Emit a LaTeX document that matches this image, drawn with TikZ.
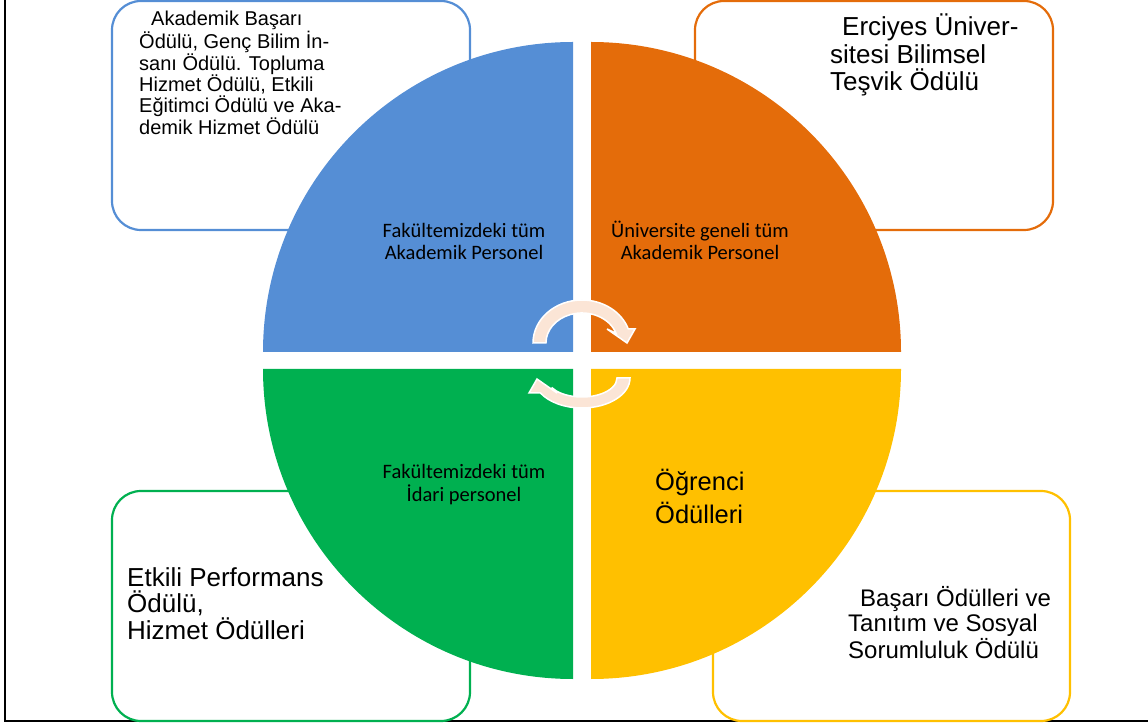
\documentclass[tikz,border=0pt]{standalone}
\usepackage{fontspec}
\setmainfont{Liberation Sans}
\newfontfamily\calibri{Carlito}

\definecolor{qblue}{HTML}{558ED5}
\definecolor{qorange}{HTML}{E46C0A}
\definecolor{qgreen}{HTML}{00B050}
\definecolor{qyellow}{HTML}{FFC000}
\definecolor{peach}{HTML}{FBE5D6}

\tikzset{
  awardbox/.style={line width=2.2pt, rounded corners=29pt},
  boxtext/.style={anchor=base west, align=left, inner sep=0pt},
  quadtext/.style={anchor=base, align=center, inner sep=0pt,
    font=\calibri\fontsize{20.5}{22}\selectfont},
  turnarrow/.style={fill=peach, draw=white, line width=1.5pt, line join=miter}
}

\begin{document}
\begin{tikzpicture}[x=1pt, y=1pt]
\useasboundingbox (0,0) rectangle (1148,726);

% page frame
\draw[line width=2pt] (5,726) -- (5,5) -- (1148,5);

% award boxes
\draw[awardbox, qblue]   (112,496) rectangle (470,725);
\draw[awardbox, qorange] (695,496) rectangle (1053,725);
\draw[awardbox, qgreen]  (112,5) rectangle (470,235);
\draw[awardbox, qyellow] (713,5) rectangle (1070,235);

% quarter discs
\fill[qblue]   (573,374) -- ++(-310,0) arc[start angle=180, end angle=90, radius=310pt] -- cycle;
\fill[qorange] (591,374) -- ++(0,310) arc[start angle=90, end angle=0, radius=310pt] -- cycle;
\fill[qgreen]  (573,357) -- ++(0,-310) arc[start angle=270, end angle=180, radius=310pt] -- cycle;
\fill[qyellow] (591,357) -- ++(310,0) arc[start angle=0, end angle=-90, radius=310pt] -- cycle;

% texts in the boxes (base = last line)
\node[boxtext, font=\fontsize{20}{20.7}\selectfont] (akademik) at (139,591.5)
  {\hspace*{12pt}Akademik Başarı\\Ödülü, Genç Bilim İn-\\sanı Ödülü. Topluma\\Hizmet Ödülü, Etkili\\Eğitimci Ödülü ve Aka-\\demik Hizmet Ödülü};
\node[boxtext, font=\fontsize{26}{27.5}\selectfont] (erciyes) at (830,635)
  {\hspace*{12pt}Erciyes Üniver-\\sitesi Bilimsel\\Teşvik Ödülü};
\node[boxtext, font=\fontsize{26}{26.5}\selectfont] (etkili) at (127,87)
  {Etkili Performans\\Ödülü,\\Hizmet Ödülleri};
\node[boxtext, font=\fontsize{24}{25}\selectfont] (basari) at (848,68)
  {\hspace*{12pt}Başarı Ödülleri ve\\Tanıtım ve Sosyal\\Sorumluluk Ödülü};

% texts in the quarters
\node[quadtext] (fakakad) at (464,466) {Fakültemizdeki tüm\\Akademik Personel};
\node[quadtext] (uniakad) at (700,466) {Üniversite geneli tüm\\Akademik Personel};
\node[quadtext] (fakidari) at (464,225) {Fakültemizdeki tüm\\İdari personel};
\node[boxtext, font=\fontsize{25.5}{33}\selectfont] (ogrenci) at (655,203) {Öğrenci\\Ödülleri};

% turning arrows
\draw[turnarrow] (533,383) arc[start angle=180, end angle=19, x radius=49pt, y radius=43pt]
  -- (635,397) -- (627,383) -- (607,397)
  -- (616,392.8) arc[start angle=19, end angle=180, x radius=36pt, y radius=30pt] -- cycle;
\draw[turnarrow] (630,348) arc[start angle=0, end angle=-150, x radius=48pt, y radius=30pt]
  -- (529,333) -- (537,347) -- (557,333)
  -- (551.7,338.5) arc[start angle=-150, end angle=0, x radius=35pt, y radius=19pt] -- cycle;

\end{tikzpicture}
\end{document}
